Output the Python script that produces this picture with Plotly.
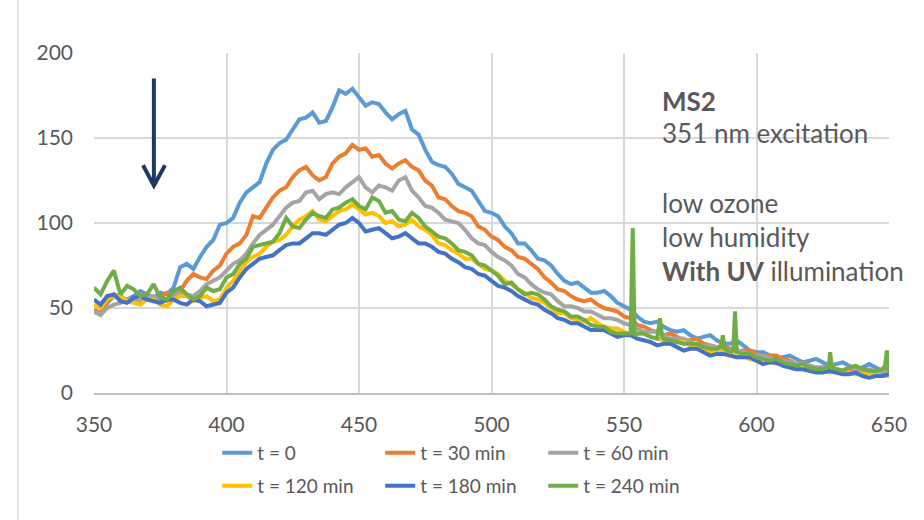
import plotly.graph_objects as go

wavelength = [350, 352.5, 355, 357.5, 360, 362.5, 365, 367.5, 370, 372.5,
              375, 377.5, 380, 382.5, 385, 387.5, 390, 392.5, 395, 397.5,
              400, 402.5, 405, 407.5, 410, 412.5, 415, 417.5, 420, 422.5,
              425, 427.5, 430, 432.5, 435, 437.5, 440, 442.5, 445, 447.5,
              450, 452.5, 455, 457.5, 460, 462.5, 465, 467.5, 470, 472.5,
              475, 477.5, 480, 482.5, 485, 487.5, 490, 492.5, 495, 497.5,
              500, 502.5, 505, 507.5, 510, 512.5, 515, 517.5, 520, 522.5,
              525, 527.5, 530, 532.5, 535, 537.5, 540, 542.5, 545, 547.5,
              550, 552.5, 555, 557.5, 560, 562.5, 565, 567.5, 570, 572.5,
              575, 577.5, 580, 582.5, 585, 587.5, 590, 592.5, 595, 597.5,
              600, 602.5, 605, 607.5, 610, 612.5, 615, 617.5, 620, 622.5,
              625, 627.5, 630, 632.5, 635, 637.5, 640, 642.5, 645, 647.5,
              650]

t0 = [48, 46, 53, 57, 56, 55, 57, 60, 58, 56,
      59, 58, 62, 74, 76, 73, 80, 86, 90, 99,
      100, 103, 112, 118, 121, 124, 135, 143, 147, 149,
      155, 161, 162, 165, 159, 160, 168, 178, 176, 179,
      174, 169, 171, 170, 165, 161, 164, 166, 155, 152,
      143, 136, 134, 133, 129, 123, 121, 119, 113, 107,
      106, 104, 98, 94, 88, 88, 84, 79, 78, 75,
      70, 66, 64, 65, 62, 59, 59, 60, 57, 53,
      51, 49, 45, 42, 41, 42, 39, 37, 36, 37,
      34, 32, 33, 34, 31, 29, 29, 31, 28, 25,
      24, 24, 22, 20, 21, 22, 20, 18, 19, 20,
      18, 16, 17, 18, 16, 14, 15, 17, 15, 13,
      14]

t30 = [49, 47, 54, 58, 57, 54, 56, 58, 57, 55,
       56, 59, 58, 60, 66, 70, 68, 67, 72, 75,
       82, 86, 88, 93, 104, 103, 109, 115, 119, 121,
       127, 131, 133, 128, 125, 127, 135, 139, 141, 146,
       143, 144, 139, 140, 135, 132, 135, 137, 133, 131,
       125, 122, 115, 114, 110, 107, 106, 104, 98, 96,
       92, 90, 86, 84, 80, 79, 76, 73, 68, 65,
       61, 60, 57, 55, 54, 55, 52, 50, 49, 48,
       45, 44, 40, 39, 37, 36, 34, 35, 33, 31,
       31, 32, 29, 28, 27, 28, 26, 24, 25, 25,
       23, 21, 22, 22, 20, 19, 17, 18, 16, 15,
       15, 16, 14, 13, 13, 15, 13, 12, 12, 13,
       12]

t60 = [48, 46, 50, 52, 53, 55, 55, 54, 56, 57,
       55, 54, 57, 59, 58, 57, 60, 64, 66, 68,
       72, 76, 78, 82, 88, 93, 96, 99, 104, 109,
       112, 113, 118, 119, 114, 117, 118, 117, 121, 124,
       127, 121, 118, 122, 121, 119, 125, 127, 119, 115,
       110, 109, 106, 102, 101, 100, 96, 91, 88, 87,
       83, 80, 78, 75, 70, 68, 64, 61, 59, 58,
       54, 51, 51, 50, 48, 48, 46, 44, 44, 43,
       41, 40, 38, 36, 36, 36, 34, 32, 32, 32,
       30, 28, 28, 28, 27, 25, 25, 25, 24, 22,
       22, 22, 21, 19, 19, 18, 17, 17, 16, 15,
       15, 15, 14, 13, 15, 14, 13, 14, 13, 12,
       12]

t120 = [52, 50, 55, 57, 57, 54, 53, 52, 55, 55,
        52, 51, 55, 57, 57, 54, 56, 57, 54, 55,
        62, 66, 72, 77, 80, 82, 86, 89, 90, 93,
        98, 102, 104, 107, 102, 101, 104, 107, 108, 111,
        108, 105, 106, 104, 100, 101, 98, 99, 102, 98,
        96, 93, 88, 87, 84, 82, 79, 79, 76, 73,
        72, 70, 66, 64, 61, 59, 56, 55, 53, 50,
        47, 47, 44, 43, 42, 44, 41, 39, 38, 38,
        36, 34, 35, 35, 33, 32, 31, 29, 30, 30,
        28, 27, 26, 24, 25, 25, 23, 21, 22, 20,
        19, 20, 19, 17, 17, 16, 15, 14, 14, 14,
        13, 12, 13, 13, 12, 11, 11, 12, 11, 10,
        10]

t180 = [55, 52, 57, 58, 54, 53, 56, 57, 55, 54,
        53, 55, 55, 53, 52, 55, 54, 51, 52, 53,
        59, 62, 68, 73, 76, 79, 80, 81, 84, 87,
        88, 88, 91, 94, 94, 93, 96, 99, 100, 103,
        100, 95, 96, 97, 94, 91, 92, 94, 91, 88,
        88, 86, 83, 82, 79, 77, 74, 73, 70, 69,
        66, 63, 62, 60, 57, 55, 53, 52, 49, 47,
        44, 43, 41, 41, 39, 37, 37, 37, 35, 33,
        34, 34, 32, 31, 30, 28, 29, 29, 27, 25,
        26, 26, 24, 22, 23, 23, 22, 21, 21, 21,
        19, 17, 18, 18, 16, 15, 14, 14, 13, 12,
        12, 13, 12, 11, 11, 12, 10, 9, 10, 10,
        11]

wavelength_240 = [350, 352.5, 355, 357.5, 360, 362.5, 365, 367.5, 370, 372.5,
                  375, 377.5, 380, 382.5, 385, 387.5, 390, 392.5, 395, 397.5,
                  400, 402.5, 405, 407.5, 410, 412.5, 415, 417.5, 420, 422.5,
                  425, 427.5, 430, 432.5, 435, 437.5, 440, 442.5, 445, 447.5,
                  450, 452.5, 455, 457.5, 460, 462.5, 465, 467.5, 470, 472.5,
                  475, 477.5, 480, 482.5, 485, 487.5, 490, 492.5, 495, 497.5,
                  500, 502.5, 505, 507.5, 510, 512.5, 515, 517.5, 520, 522.5,
                  525, 527.5, 530, 532.5, 535, 537.5, 540, 542.5, 545, 547.5,
                  550, 552.5, 553.3, 554, 555, 557.5, 560, 562.5, 563.6, 564.4, 565, 567.5,
                  570, 572.5, 575, 577.5, 580, 582.5, 585, 586.6, 587.3, 588,
                  590, 591.2, 591.9, 592.6, 595, 597.5,
                  600, 602.5, 605, 607.5, 610, 612.5, 615, 617.5, 620, 622.5,
                  625, 627.2, 627.8, 628.4, 630, 632.5, 635, 637.5, 640, 642.5,
                  645, 647.5, 648.5, 649.2, 650]
t240 = [62, 58, 66, 72, 58, 63, 61, 57, 58, 64,
        56, 55, 60, 62, 58, 55, 57, 62, 60, 61,
        68, 70, 76, 79, 86, 87, 88, 89, 94, 103,
        98, 97, 102, 106, 104, 103, 108, 109, 112, 114,
        110, 108, 115, 113, 106, 107, 102, 101, 106, 103,
        98, 95, 92, 91, 88, 84, 83, 81, 76, 75,
        72, 69, 64, 65, 61, 58, 59, 58, 55, 51,
        49, 48, 45, 45, 43, 40, 39, 39, 36, 35,
        35, 35, 97, 34, 35, 35, 33, 32, 44, 33, 32, 31,
        30, 29, 29, 29, 27, 26, 26, 27, 34, 26,
        24, 25, 48, 24, 23, 23,
        21, 20, 19, 20, 18, 17, 16, 17, 15, 14,
        14, 15, 24, 15, 14, 13, 15, 16, 14, 13,
        13, 14, 16, 25, 12]

series = [
    ("t = 0", wavelength, t0, "#5B9BD5", "legend"),
    ("t = 30 min", wavelength, t30, "#ED7D31", "legend"),
    ("t = 60 min", wavelength, t60, "#A5A5A5", "legend"),
    ("t = 120 min", wavelength, t120, "#FFC000", "legend2"),
    ("t = 180 min", wavelength, t180, "#4472C4", "legend2"),
    ("t = 240 min", wavelength_240, t240, "#70AD47", "legend2"),
]

FONT = "Lato"
TXT = "#595959"

fig = go.Figure()
for name, xs, ys, col, lg in series:
    fig.add_trace(go.Scatter(x=xs, y=ys, mode="lines", name=name, legend=lg,
                             line=dict(color=col, width=4)))

# annotation text block
notes = [("<b>MS2</b>", 172), ("351 nm excitation", 153),
         ("low ozone", 112), ("low humidity", 92),
         ("<b>With UV</b> illumination", 72)]
for txt, yv in notes:
    fig.add_annotation(x=563.6, y=yv, xref="x", yref="y", text=txt,
                       showarrow=False, xanchor="left", yanchor="middle",
                       font=dict(family=FONT, size=26, color=TXT))

# down arrow
fig.add_shape(type="line", x0=372.6, x1=372.6, y0=185, y1=123, xref="x", yref="y",
              line=dict(color="#203864", width=4))
fig.add_shape(type="path", path="M 368.5 134 L 372.6 122 L 376.8 134",
              xref="x", yref="y", line=dict(color="#203864", width=4))

# outer chart border on the left
fig.add_shape(type="line", xref="paper", yref="paper", x0=-0.0956, x1=-0.0956,
              y0=-0.38, y1=1.16, line=dict(color="#D9D9D9", width=1.5))

legend_common = dict(orientation="h", x=0.155, xanchor="left", yanchor="top",
                     entrywidth=118, entrywidthmode="pixels",
                     font=dict(family=FONT, size=19, color=TXT),
                     bgcolor="rgba(0,0,0,0)")

fig.update_layout(
    width=924, height=520,
    margin=dict(l=94, r=35, t=53, b=127),
    paper_bgcolor="white", plot_bgcolor="white",
    font=dict(family=FONT, size=20, color=TXT),
    showlegend=True,
    legend=dict(y=-0.1206, **legend_common),
    legend2=dict(y=-0.2176, **legend_common),
)
fig.update_xaxes(range=[350, 650], tickvals=[350, 400, 450, 500, 550, 600, 650],
                 showgrid=True, gridcolor="#D9D9D9", gridwidth=1.5,
                 showline=True, linecolor="#BFBFBF", linewidth=2,
                 zeroline=False, ticks="", ticklabelstandoff=12,
                 tickfont=dict(family=FONT, size=21, color=TXT))
fig.update_yaxes(range=[0, 200], tickvals=[0, 50, 100, 150, 200],
                 showgrid=True, gridcolor="#D9D9D9", gridwidth=1.5,
                 showline=False, zeroline=False, ticks="", ticklabelstandoff=20,
                 tickfont=dict(family=FONT, size=21, color=TXT))

fig.write_html("out.html")
